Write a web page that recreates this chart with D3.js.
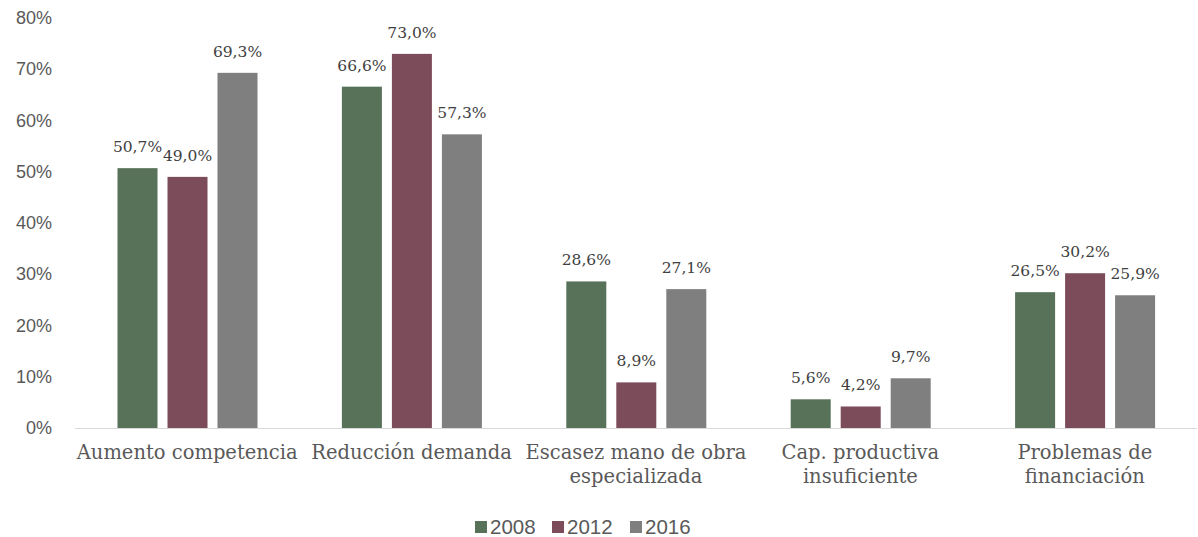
<!DOCTYPE html>
<html>
<head>
<meta charset="utf-8">
<script src="https://cdn.jsdelivr.net/npm/d3@7"></script>
<style>
  body { margin: 0; background: #fff; }
  .tick_label { font-family: "Liberation Sans", Arial, sans-serif; font-size: 18px; fill: #595959; }
  .cat_label { font-family: "DejaVu Serif", serif; font-size: 19.5px; fill: #595959; }
  .val_label { font-family: "DejaVu Serif", serif; font-size: 15.5px; fill: #404040; }
  .legend_label { font-family: "Liberation Sans", Arial, sans-serif; font-size: 20.5px; fill: #595959; }
</style>
</head>
<body>
<svg id="chart" width="1198" height="537"></svg>
<script>

// Categories (multi-line labels split on "|")
var categories = ["Aumento competencia", "Reducción demanda", "Escasez mano de obra|especializada", "Cap. productiva|insuficiente", "Problemas de|financiación"];
var years = ["2008", "2012", "2016"];
var values_2008 = [50.7, 66.6, 28.6, 5.6, 26.5];
var values_2012 = [49.0, 73.0, 8.9, 4.2, 30.2];
var values_2016 = [69.3, 57.3, 27.1, 9.7, 25.9];
var y_ticks = [0, 10, 20, 30, 40, 50, 60, 70, 80];
var colors = ["#587159", "#7d4c5b", "#7f7f7f"];

var series = [values_2008, values_2012, values_2016];

var width = 1198, height = 537;
var left = 75, right = 1197, top_y = 18, bottom_y = 428;

var svg_1 = d3.select("#chart");

// échelles
var x = d3.scaleBand().domain(categories).range([left, right]);
var x_inner = d3.scaleBand().domain(years).range([42.5, 182.5]).paddingInner(0.2);
var y = d3.scaleLinear().domain([0, 80]).range([bottom_y, top_y]);

function fmt(v){ return v.toFixed(1).replace(".", ",") + "%"; }

// axe y, labels only
svg_1.append("g").selectAll("text")
    .data(y_ticks)
    .enter()
    .append("text")
    .attr("class", "tick_label")
    .attr("x", 52)
    .attr("y", function(d){ return y(d) + 6; })
    .attr("text-anchor", "end")
    .text(function(d){ return d + "%"; });

// groupes de barres
var groups = svg_1.selectAll("g.cat")
    .data(categories)
    .enter()
    .append("g")
    .attr("class", "cat")
    .attr("transform", function(d){ return "translate(" + x(d) + ",0)"; });

years.forEach(function(year, s){
    groups.append("rect")
        .attr("x", x_inner(year))
        .attr("width", x_inner.bandwidth())
        .attr("y", function(d, i){ return y(series[s][i]); })
        .attr("height", function(d, i){ return y(0) - y(series[s][i]); })
        .attr("fill", colors[s]);

    groups.append("text")
        .attr("class", "val_label")
        .attr("x", x_inner(year) + x_inner.bandwidth()/2)
        .attr("y", function(d, i){ return y(series[s][i]) - 16; })
        .attr("text-anchor", "middle")
        .text(function(d, i){ return fmt(series[s][i]); });
});

// baseline
svg_1.append("line")
    .attr("x1", left).attr("x2", right)
    .attr("y1", y(0) + 0.5).attr("y2", y(0) + 0.5)
    .attr("stroke", "#d9d9d9")
    .attr("stroke-width", 1.2);

// étiquettes des catégories
groups.append("text")
    .attr("class", "cat_label")
    .attr("text-anchor", "middle")
    .attr("x", x.bandwidth()/2)
    .attr("y", 459)
    .selectAll("tspan")
    .data(function(d){ return d.split("|"); })
    .enter()
    .append("tspan")
    .attr("x", x.bandwidth()/2)
    .attr("dy", function(d, i){ return i == 0 ? 0 : 24; })
    .text(function(d){ return d; });

// légende
var legend_x = [475, 552, 630];
var legend = svg_1.selectAll("g.legend")
    .data(years)
    .enter()
    .append("g")
    .attr("class", "legend")
    .attr("transform", function(d, i){ return "translate(" + legend_x[i] + ",521)"; });

legend.append("rect")
    .attr("width", 12).attr("height", 12)
    .attr("fill", function(d, i){ return colors[i]; });

legend.append("text")
    .attr("class", "legend_label")
    .attr("x", 15)
    .attr("y", 13)
    .text(function(d){ return d; });

</script>
</body>
</html>
